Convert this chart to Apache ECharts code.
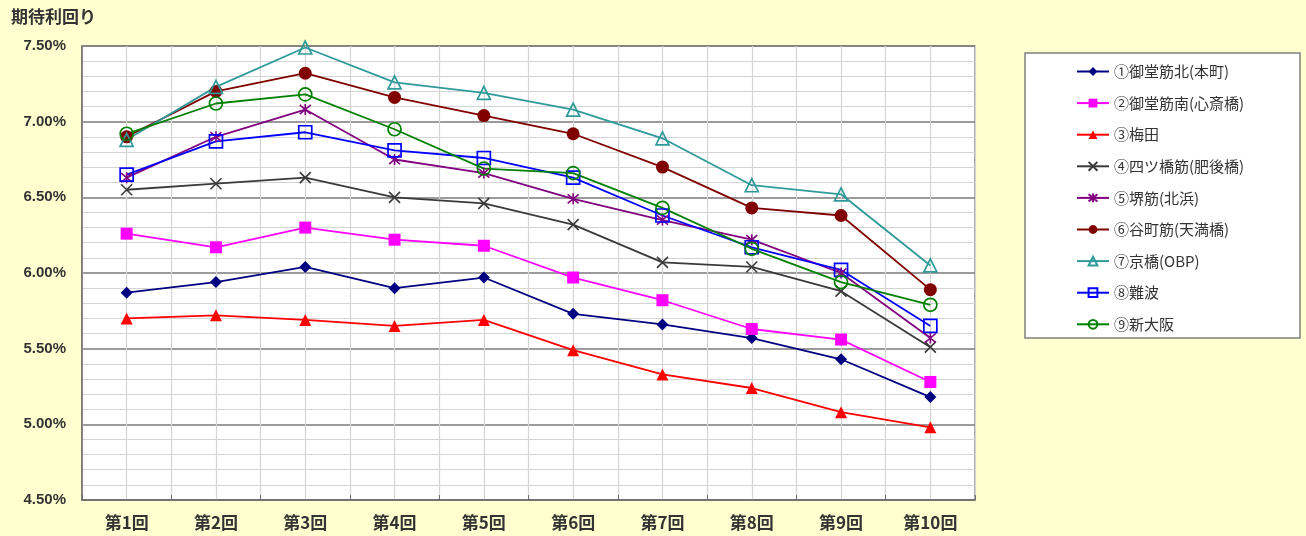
<!DOCTYPE html>
<html>
<head>
<meta charset="utf-8">
<script src="https://cdn.jsdelivr.net/npm/echarts@6/dist/echarts.min.js"></script>
<style>
  html, body { margin: 0; padding: 0; background: #ffffcf; }
  #chart { width: 1306px; height: 536px; }
</style>
</head>
<body>
<div id="chart"></div>
<script>
// Survey rounds on the x axis
const rounds = ['第1回', '第2回', '第3回', '第4回', '第5回', '第6回', '第7回', '第8回', '第9回', '第10回'];

// Expected yields (%) per area
const midosujiKita   = [5.87, 5.94, 6.04, 5.90, 5.97, 5.73, 5.66, 5.57, 5.43, 5.18];
const midosujiMinami = [6.26, 6.17, 6.30, 6.22, 6.18, 5.97, 5.82, 5.63, 5.56, 5.28];
const umeda          = [5.70, 5.72, 5.69, 5.65, 5.69, 5.49, 5.33, 5.24, 5.08, 4.98];
const yotsubashi     = [6.55, 6.59, 6.63, 6.50, 6.46, 6.32, 6.07, 6.04, 5.88, 5.51];
const sakaisuji      = [6.63, 6.90, 7.08, 6.75, 6.66, 6.49, 6.35, 6.22, 6.00, 5.57];
const tanimachi      = [6.90, 7.20, 7.32, 7.16, 7.04, 6.92, 6.70, 6.43, 6.38, 5.89];
const kyobashi       = [6.88, 7.23, 7.49, 7.26, 7.19, 7.08, 6.89, 6.58, 6.52, 6.05];
const namba          = [6.65, 6.87, 6.93, 6.81, 6.76, 6.63, 6.38, 6.17, 6.02, 5.65];
const shinOsaka      = [6.92, 7.12, 7.18, 6.95, 6.69, 6.66, 6.43, 6.16, 5.94, 5.79];

// Y axis range
const yMin = 4.5, yMax = 7.5, yStep = 0.5;

const JP = '"Noto Sans CJK JP", "Noto Sans", sans-serif';
const NUM = '"Liberation Sans", Arial, sans-serif';

const crossPath = 'path://M0,0L10,10M10,0L0,10';
const starPath = 'path://M0,0L10,10M10,0L0,10M5,-1L5,11';

function line(name, data, color, symbol, size, hollow, extra) {
  const s = {
    name: name,
    type: 'line',
    data: data,
    symbol: symbol,
    symbolSize: size,
    lineStyle: { color: color, width: 1.8 },
    itemStyle: hollow
      ? { color: 'rgba(255,255,255,0)', borderColor: color, borderWidth: 1.7 }
      : { color: color },
    emphasis: { disabled: true },
    animation: false
  };
  return Object.assign(s, extra || {});
}

const series = [
  line('①御堂筋北(本町)', midosujiKita, '#000080', 'diamond', 12, false),
  line('②御堂筋南(心斎橋)', midosujiMinami, '#ff00ff', 'rect', 12, false),
  line('③梅田', umeda, '#ff0000', 'triangle', 12, false),
  line('④四ツ橋筋(肥後橋)', yotsubashi, '#3a3a3a', crossPath, 11, false,
       { itemStyle: { color: '#3a3a3a', borderColor: '#3a3a3a', borderWidth: 1.6 } }),
  line('⑤堺筋(北浜)', sakaisuji, '#800080', starPath, 11, false,
       { itemStyle: { color: '#800080', borderColor: '#800080', borderWidth: 1.6 } }),
  line('⑥谷町筋(天満橋)', tanimachi, '#800000', 'circle', 13, false),
  line('⑦京橋(OBP)', kyobashi, '#2f9a9a', 'triangle', 13, true),
  line('⑧難波', namba, '#0000ff', 'rect', 13, true),
  line('⑨新大阪', shinOsaka, '#008000', 'circle', 13, true)
];

// Hidden value axis carrying the vertical grid at category centres and boundaries
series.push({
  type: 'line', xAxisIndex: 1, data: [], silent: true
});

const chart = echarts.init(document.getElementById('chart'), null, { renderer: 'canvas' });
chart.setOption({
  backgroundColor: '#ffffcf',
  animation: false,
  graphic: [
    {
      type: 'rect', z: -1,
      shape: { x: 1025, y: 53, width: 275, height: 285 },
      style: { fill: '#ffffff', stroke: '#808080', lineWidth: 1.5 }
    },
    {
      type: 'text', left: 11, top: 8,
      style: { text: '期待利回り', font: 'bold 17px ' + JP, fill: '#333333' }
    }
  ],
  grid: {
    left: 82, right: 331, top: 46, bottom: 36,
    show: true, backgroundColor: '#ffffff', borderColor: '#8c8c8c', borderWidth: 1.5
  },
  xAxis: [
    {
      type: 'category',
      data: rounds,
      boundaryGap: true,
      axisLine: { show: true, lineStyle: { color: '#6e6e6e', width: 1.5 } },
      axisTick: { show: true, inside: true, length: 5, lineStyle: { color: '#6e6e6e' } },
      splitLine: { show: false },
      axisLabel: { margin: 14, fontFamily: JP, fontWeight: 'bold', fontSize: 17, color: '#333333' }
    },
    {
      type: 'value',
      min: 0, max: 20, interval: 1,
      show: true,
      position: 'bottom',
      axisLine: { show: false },
      axisTick: { show: false },
      axisLabel: { show: false },
      splitLine: { show: true, lineStyle: { color: '#d4d4d4', width: 1.2 } }
    }
  ],
  yAxis: {
    type: 'value',
    min: yMin, max: yMax, interval: yStep,
    axisLine: { show: true, lineStyle: { color: '#6e6e6e', width: 1.5 } },
    axisTick: { show: false },
    axisLabel: {
      margin: 16, fontFamily: NUM, fontWeight: 'bold', fontSize: 15, color: '#333333',
      formatter: v => v.toFixed(2) + '%'
    },
    splitLine: { show: true, lineStyle: { color: '#7a7a7a', width: 1.5 } },
    minorTick: { show: false, splitNumber: 5 },
    minorSplitLine: { show: true, lineStyle: { color: '#d4d4d4', width: 1.2 } }
  },
  legend: {
    orient: 'vertical',
    left: 1071, top: 59,
    itemWidth: 32, itemHeight: 11,
    itemGap: 16.6,
    data: series.slice(0, 9).map(s => s.name),
    textStyle: { fontFamily: JP, fontSize: 15, color: '#333333' }
  },
  series: series
});
</script>
</body>
</html>
